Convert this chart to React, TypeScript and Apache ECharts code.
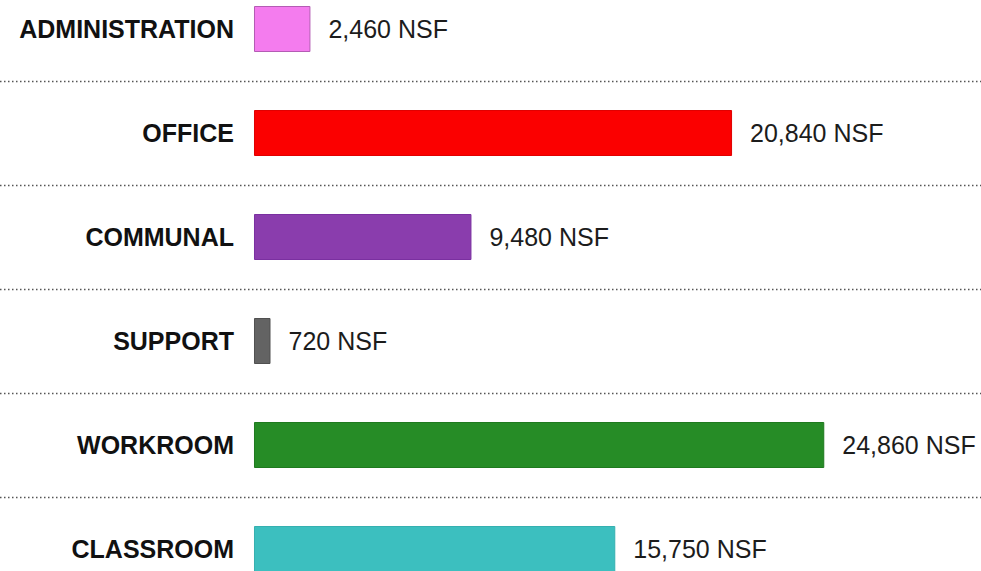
import React, { useEffect, useRef } from "react";
import * as echarts from "echarts";

const categories = ["ADMINISTRATION", "OFFICE", "COMMUNAL", "SUPPORT", "WORKROOM", "CLASSROOM"];
const areas = [2460, 20840, 9480, 720, 24860, 15750];
const barColors = ["#f47cee", "#fb0000", "#8a3dad", "#636363", "#268c26", "#3cbfbf"];
const barBorders = ["#b45cb4", "#e00000", "#7a30a0", "#505050", "#1f7a1f", "#35b0b0"];
const unitLabel = "NSF";

const X_MIN = -11072;
const X_MAX = 31692;

export default function App() {
  const ref = useRef<HTMLDivElement>(null);
  useEffect(() => {
    if (!ref.current) return;
    const chart = echarts.init(ref.current, undefined, { renderer: "svg" });
    chart.setOption({
      animation: false,
      backgroundColor: "#ffffff",
      grid: { left: 0, right: 0, top: 0, bottom: 0, containLabel: false },
      xAxis: {
        type: "value",
        min: X_MIN,
        max: X_MAX,
        show: false,
      },
      yAxis: {
        type: "category",
        data: categories,
        inverse: true,
        position: "left",
        offset: -254,
        axisLine: { show: false },
        axisTick: { show: false },
        axisLabel: {
          margin: 20,
          color: "#111111",
          fontFamily: "Liberation Sans, Arial, sans-serif",
          fontWeight: "bold",
          fontSize: 25,
          padding: [4, 0, 0, 0],
        },
        splitLine: {
          show: true,
          lineStyle: { color: "#555555", width: 1.3, type: [1.5, 2.5] },
        },
      },
      series: [
        {
          type: "bar",
          barWidth: 46,
          data: areas.map((v, i) => ({
            value: v,
            itemStyle: { color: barColors[i], borderColor: barBorders[i], borderWidth: 1 },
          })),
          label: {
            show: true,
            position: "right",
            distance: 18,
            color: "#1c1c1c",
            fontFamily: "Liberation Sans, Arial, sans-serif",
            fontSize: 25,
            padding: [4, 0, 0, 0],
            formatter: (p: any) => `${Number(p.value).toLocaleString("en-US")} ${unitLabel}`,
          },
        },
      ],
    });
    return () => chart.dispose();
  }, []);
  return (
    <div style={{ position: "fixed", left: 0, top: 0, width: 981, height: 571, overflow: "hidden", background: "#fff" }}>
      <div
        ref={ref}
        style={{ position: "absolute", left: 0, top: -22.6, width: 981, height: 624.2 }}
      />
    </div>
  );
}
